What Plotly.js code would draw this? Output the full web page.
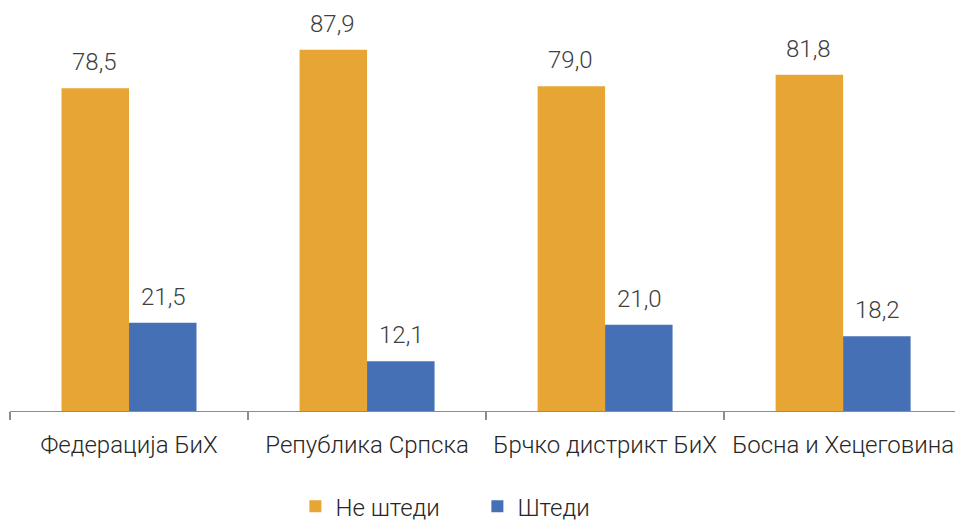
<!DOCTYPE html>
<html><head><meta charset="utf-8">
<script src="https://cdn.plot.ly/plotly-3.0.1.min.js"></script>
<style>body{margin:0;padding:0;background:#fff}#chart{width:955px;height:522px}</style>
</head><body><div id="chart"></div>
<script>
const categories = ["Федерација БиХ", "Република Српска", "Брчко дистрикт БиХ", "Босна и Хецеговина"];
const seriesNames = ["Не штеди", "Штеди"];
const neShtedi = [78.5, 87.9, 79.0, 81.8];
const shtedi = [21.5, 12.1, 21.0, 18.2];
const colors = ["#E7A533", "#4670B6"];

const fmt = v => v.toFixed(1).replace(".", ",");
const font = {family: "Roboto, sans-serif", weight: 300, color: "#262626"};

const traces = [neShtedi, shtedi].map((vals, i) => ({
  type: "bar", name: seriesNames[i], x: categories, y: vals,
  marker: {color: colors[i]}, hoverinfo: "skip"
}));

const annotations = [];
[neShtedi, shtedi].forEach((vals, i) => {
  vals.forEach((v, j) => {
    annotations.push({
      x: categories[j], y: v, xref: "x", yref: "y",
      text: fmt(v), showarrow: false, yanchor: "bottom",
      xshift: i === 0 ? -35 : 34, yshift: 10,
      font: {family: "Roboto, sans-serif", weight: 300, size: 24, color: "#404040"}
    });
  });
});

const layout = {
  width: 955, height: 522,
  margin: {l: 10, r: 0, t: 0, b: 111, autoexpand: false},
  paper_bgcolor: "#fff", plot_bgcolor: "#fff",
  barmode: "group", bargap: 0.433, bargroupgap: 0,
  font: font,
  xaxis: {
    type: "category", range: [-0.5, 3.47], automargin: false,
    showline: true, linecolor: "#8C8C8C", linewidth: 1.3,
    ticks: "outside", tickson: "boundaries", ticklen: 8, tickcolor: "#8C8C8C", tickwidth: 1.3,
    tickfont: {family: "Roboto, sans-serif", weight: 300, size: 24, color: "#262626"},
    ticklabelstandoff: 12,
    showgrid: false, zeroline: false, fixedrange: true
  },
  yaxis: {range: [0, 100], visible: false, showgrid: false, zeroline: false, fixedrange: true},
  showlegend: true,
  legend: {
    orientation: "h", x: 0.302, xanchor: "left", y: -0.233, yanchor: "middle",
    font: {family: "Roboto, sans-serif", weight: 300, size: 24, color: "#262626"},
    itemwidth: 30, traceorder: "normal", entrywidth: 137
  },
  annotations: annotations
};

Plotly.newPlot("chart", traces, layout, {displayModeBar: false, staticPlot: true});
</script></body></html>
